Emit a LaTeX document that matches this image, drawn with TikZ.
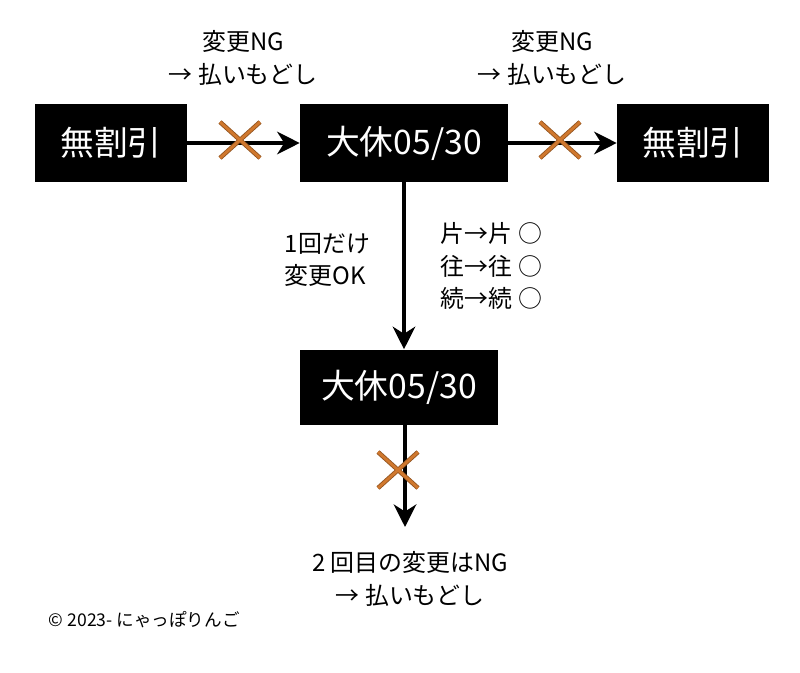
\documentclass[tikz,border=0pt]{standalone}
\usepackage{fontspec}
\setmainfont{Noto Sans CJK JP}
\usetikzlibrary{positioning}
\definecolor{crossc}{HTML}{D0782E}
\tikzset{
  tkt/.style={fill=black, text=white, minimum height=78*0.025cm, inner sep=0pt, font=\fontsize{24}{28}\selectfont},
  flow/.style={line width=3.5pt, -{Stealth[length=16pt,width=16pt,inset=5pt]}},
  lbl/.style={font=\fontsize{17}{23}\selectfont, align=center},
}
\usetikzlibrary{arrows.meta}
\newcommand{\ngcross}[1]{%
  \draw[crossc!70!black, line width=3.2pt] ($(#1)+(-20,-18)$) -- ($(#1)+(20,18)$) ($(#1)+(-20,18)$) -- ($(#1)+(20,-18)$);
  \draw[crossc, line width=2pt] ($(#1)+(-20,-18)$) -- ($(#1)+(20,18)$) ($(#1)+(-20,18)$) -- ($(#1)+(20,-18)$);}
\usetikzlibrary{calc}
\begin{document}
\begin{tikzpicture}[x=0.025cm, y=-0.025cm]
	\useasboundingbox (0,0) rectangle (800,672);

	\node[tkt, minimum width=152*0.025cm] (free1) at (111,143) {無割引};
	\node[tkt, minimum width=208*0.025cm] (day1) at (404,143) {大休05/30};
	\node[tkt, minimum width=152*0.025cm] (free2) at (693,143) {無割引};
	\node[tkt, minimum width=198*0.025cm, minimum height=75*0.025cm] (day2) at (399,387) {大休05/30};
	\coordinate (endpt) at (405,527);

	\draw[flow] (free1) -- (day1);
	\draw[flow] (day1) -- (free2);
	\draw[flow] (day1.south) -- (day1.south |- day2.north);
	\draw[flow] (day2.south -| endpt) -- (endpt);

	\coordinate (x1) at (240,140);
	\coordinate (x2) at (560,140);
	\coordinate (x3) at (398,470);
	\ngcross{x1}
	\ngcross{x2}
	\ngcross{x3}

	\node[lbl] (ng1) at (243,58) {変更NG\\→ 払いもどし};
	\node[lbl] (ng2) at (552,58) {変更NG\\→ 払いもどし};
	\node[lbl, align=left, anchor=west] (once) at (280,260) {1回だけ\\変更OK};
	\node[lbl, align=left, anchor=west] (ok) at (436,266) {片→片 ○\\往→往 ○\\続→続 ○};
	\node[lbl] (ng3) at (410,579) {2 回目の変更はNG\\→ 払いもどし};
	\node[anchor=west, font=\fontsize{12.5}{15}\selectfont] (copy) at (44,620) {© 2023- にゃっぽりんご};

\end{tikzpicture}
\end{document}
